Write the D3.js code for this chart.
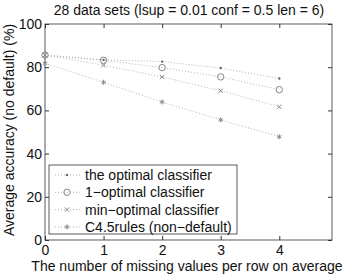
<!DOCTYPE html>
<html>
<head>
<meta charset="utf-8">
<script src="https://cdn.jsdelivr.net/npm/d3@7"></script>
<style>
body { margin: 0; background: #fff; }
text { font-family: "Liberation Sans", Arial, sans-serif; fill: #111; }
</style>
</head>
<body>
<svg id="body" width="342" height="274"></svg>
<script>
let svg = d3.select("#body")

// data
let missing = [0, 1, 2, 3, 4]
let optimal = [85.6, 83.4, 82.6, 79.6, 74.8]
let oneOptimal = [85.6, 83.2, 79.8, 75.5, 69.6]
let minOptimal = [85.6, 80.9, 75.5, 69.1, 61.7]
let c45rules = [81.8, 73.0, 63.9, 55.6, 47.8]
let seriesNames = ["the optimal classifier", "1\u2212optimal classifier", "min\u2212optimal classifier", "C4.5rules (non\u2212default)"]
let xTicks = [0, 1, 2, 3, 4]
let yTicks = [0, 20, 40, 60, 80, 100]

let margin = {top: 24, right: 10, bottom: 34, left: 45}
let width = 342 - margin.left - margin.right
let height = 274 - margin.top - margin.bottom

let xscale = d3.scaleLinear().domain([0, 4.9]).range([0, width])
let yscale = d3.scaleLinear().domain([0, 100]).range([height, 0])

let g = svg.append("g").attr("transform", "translate(" + margin.left + "," + margin.top + ")")

// frame
g.append("rect")
	.attr("width", width).attr("height", height)
	.attr("fill", "none").attr("stroke", "#333").attr("stroke-width", 0.8)

// axes, ticks inside like matlab
let axisStyle = sel => {
	sel.select(".domain").remove()
	sel.selectAll("line").attr("stroke", "#333")
	sel.selectAll("text").style("font-size", "14px").style("fill", "#111")
}
g.append("g").attr("transform", "translate(0," + height + ")")
	.call(d3.axisBottom(xscale).tickValues(xTicks).tickSizeInner(-4).tickPadding(5).tickFormat(d3.format("d")))
	.call(axisStyle)
g.append("g")
	.call(d3.axisTop(xscale).tickValues(xTicks).tickSizeInner(-4).tickFormat(""))
	.call(axisStyle)
g.append("g")
	.call(d3.axisLeft(yscale).tickValues(yTicks).tickSizeInner(-4).tickPadding(3))
	.call(axisStyle)
g.append("g").attr("transform", "translate(" + width + ",0)")
	.call(d3.axisRight(yscale).tickValues(yTicks).tickSizeInner(-4).tickFormat(""))
	.call(axisStyle)

let series = [
	{name: seriesNames[0], values: optimal, marker: "dot"},
	{name: seriesNames[1], values: oneOptimal, marker: "circle"},
	{name: seriesNames[2], values: minOptimal, marker: "x"},
	{name: seriesNames[3], values: c45rules, marker: "star"}
]

let line = d3.line()
	.x((d, i) => xscale(missing[i]))
	.y(d => yscale(d))

function drawMarker(sel, type, x, y) {
	let c = "#888"
	if (type == "dot") {
		sel.append("circle").attr("cx", x).attr("cy", y).attr("r", 1.2).attr("fill", "#666")
	} else if (type == "circle") {
		sel.append("circle").attr("cx", x).attr("cy", y).attr("r", 3.2)
			.attr("fill", "none").attr("stroke", c).attr("stroke-width", 1)
	} else if (type == "x") {
		sel.append("path").attr("d", d3.symbol(d3.symbolX, 14)())
			.attr("transform", "translate(" + x + "," + y + ")")
			.attr("stroke", c).attr("stroke-width", 1).attr("fill", "none")
	} else {
		sel.append("path").attr("d", d3.symbol(d3.symbolAsterisk, 18)())
			.attr("transform", "translate(" + x + "," + y + ")")
			.attr("stroke", c).attr("stroke-width", 1).attr("fill", "none")
	}
}

series.forEach(s => {
	g.append("path")
		.datum(s.values)
		.attr("d", line)
		.attr("fill", "none")
		.attr("stroke", "#aaa")
		.attr("stroke-width", 0.9)
		.attr("stroke-dasharray", "1,2")
	let mg = g.append("g")
	s.values.forEach((v, i) => drawMarker(mg, s.marker, xscale(missing[i]), yscale(v)))
})

// legend
let lg = svg.append("g").attr("transform", "translate(49,165)")
lg.append("rect").attr("width", 188).attr("height", 69)
	.attr("fill", "#fff").attr("stroke", "#333").attr("stroke-width", 0.8)
series.forEach((s, i) => {
	let y = 10 + i * 17.3
	lg.append("line").attr("x1", 6).attr("x2", 31).attr("y1", y).attr("y2", y)
		.attr("stroke", "#aaa").attr("stroke-width", 0.9).attr("stroke-dasharray", "1,2")
	drawMarker(lg, s.marker, 18, y)
	lg.append("text").attr("x", 36).attr("y", y + 5)
		.style("font-size", "14px").text(s.name)
})

// title and labels
svg.append("text").attr("x", 189).attr("y", 15)
	.attr("text-anchor", "middle").style("font-size", "14px")
	.text("28 data sets (lsup = 0.01 conf = 0.5 len = 6)")
svg.append("text").attr("x", 187).attr("y", 271)
	.attr("text-anchor", "middle").style("font-size", "14px")
	.text("The number of missing values per row on average")
svg.append("text")
	.attr("transform", "translate(14,130) rotate(-90)")
	.attr("text-anchor", "middle").style("font-size", "14px")
	.text("Average accuracy (no default) (%)")
</script>
</body>
</html>
